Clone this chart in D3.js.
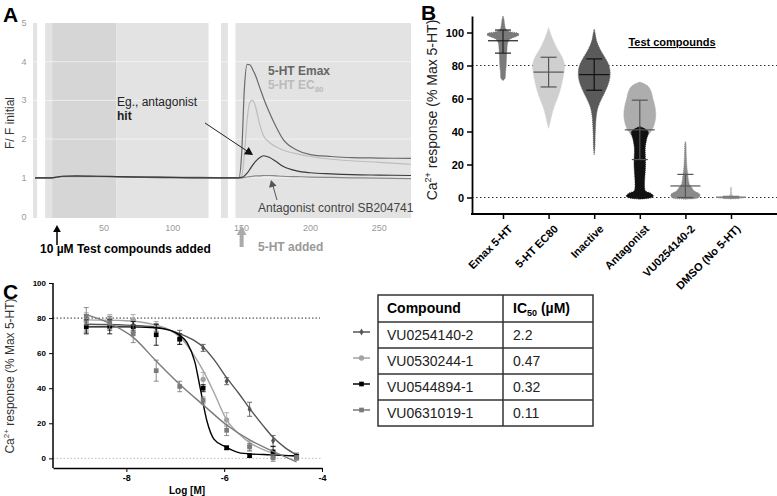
<!DOCTYPE html>
<html>
<head>
<meta charset="utf-8">
<script src="https://cdn.jsdelivr.net/npm/d3@7"></script>
<style>
  body { margin: 0; background: #fff; }
  svg { font-family: "Liberation Sans", Arial, sans-serif; display: block; }
</style>
</head>
<body>
<svg id="fig" width="777" height="496"></svg>
<script>
// ---- panel A: kinetic traces ----
const bandStart = [-1.5, 7.3, 12.4, 59, 135, 145.5];
const bandEnd   = [1.5, 12.4, 59, 126, 140, 273];
const bandShade = ['light', 'light', 'dark', 'light', 'light', 'light'];

const traceTime = [0, 8, 12, 16, 20, 30, 45, 60, 80, 100, 120, 140, 148, 150, 152, 154, 156, 158, 160, 163, 166, 170, 175, 180, 190, 200, 215, 230, 250, 273];
const emaxTrace = [1, 1, 1, 1.02, 1.04, 1.04, 1.04, 1.03, 1.02, 1.01, 1.01, 1, 1, 1.6, 3.3, 3.93, 3.92, 3.8, 3.65, 3.35, 3.05, 2.7, 2.32, 2.0, 1.72, 1.6, 1.55, 1.52, 1.51, 1.5];
const ec80Trace = [1, 1, 1, 1.01, 1.03, 1.03, 1.03, 1.02, 1.01, 1, 1, 1, 1, 1.05, 1.6, 2.5, 2.95, 3.0, 2.85, 2.4, 2.08, 1.92, 1.8, 1.72, 1.62, 1.55, 1.48, 1.44, 1.4, 1.35];
const hitTrace  = [1, 1, 1, 1.02, 1.04, 1.05, 1.04, 1.03, 1.02, 1.01, 1, 1, 1, 1.01, 1.05, 1.12, 1.22, 1.33, 1.42, 1.52, 1.57, 1.53, 1.42, 1.3, 1.18, 1.13, 1.1, 1.08, 1.07, 1.06];
const ctrlTrace = [1, 1, 1, 1.01, 1.03, 1.03, 1.03, 1.02, 1.01, 1, 1, 1, 1, 1, 1.01, 1.02, 1.03, 1.04, 1.05, 1.05, 1.06, 1.06, 1.05, 1.04, 1.03, 1.02, 1.01, 1, 0.99, 0.98];
const aYTicks = [0, 1, 2, 3, 4, 5];
const aXTicks = [50, 100, 150, 200, 250];

// ---- panel B: screening distributions ----
const bCategories = ['Emax 5-HT', '5-HT EC80', 'Inactive', 'Antagonist', 'VU0254140-2', 'DMSO (No 5-HT)'];
const bMeans = [95, 76, 74.5, 41, 7, 0.2];
const bSdLow = [87.5, 67, 65, 23, 0, -0.3];
const bSdHigh = [101.5, 85, 84, 59, 14, 0.7];
// distribution outlines: [response, relative density]
const emaxDist = [[71, 0], [72, 0.12], [76, 0.16], [80, 0.2], [85, 0.22], [90, 0.25], [94, 0.3], [96, 0.45], [97.5, 0.8], [98.5, 1.0], [99.5, 0.95], [100.5, 0.45], [102, 0.18], [105, 0.1], [108, 0.06], [110, 0]];
const ec80Dist = [[42, 0], [45, 0.08], [50, 0.2], [55, 0.35], [60, 0.55], [65, 0.72], [70, 0.85], [75, 0.95], [80, 1.0], [85, 0.85], [90, 0.55], [95, 0.3], [100, 0.1], [103, 0]];
const inactiveDist = [[26, 0], [30, 0.04], [40, 0.07], [50, 0.14], [55, 0.25], [60, 0.47], [65, 0.72], [70, 0.92], [75, 1.0], [80, 0.92], [85, 0.66], [90, 0.36], [95, 0.15], [100, 0.05], [102, 0]];
const antagHighDist = [[38, 0.55], [42, 0.82], [46, 0.95], [50, 1.0], [55, 0.95], [60, 0.82], [65, 0.68], [68, 0.45], [70, 0]];
const antagLowDist = [[-1, 0], [0, 0.75], [1, 0.85], [2.5, 0.7], [4, 0.35], [6, 0.3], [10, 0.3], [20, 0.36], [30, 0.34], [35, 0.42], [40, 0.52], [43, 0]];
const vuDist = [[-1, 0], [0, 0.85], [2, 0.9], [4, 0.55], [6, 0.4], [8, 0.25], [10, 0.2], [14, 0.15], [18, 0.1], [25, 0.06], [33, 0.03], [34, 0]];
const dmsoDist = [[-1, 0], [-0.5, 0.6], [0, 0.95], [0.5, 0.6], [1, 0.1], [6, 0.03], [6.5, 0]];
const bYTicks = [0, 20, 40, 60, 80, 100];

// ---- panel C: concentration response ----
const logConc = [-8.82, -8.34, -7.86, -7.39, -6.91, -6.43, -5.95, -5.48, -5.0, -4.52];
const compounds = ['VU0254140-2', 'VU0530244-1', 'VU0544894-1', 'VU0631019-1'];
const ic50s = ['2.2', '0.47', '0.32', '0.11'];
const respVU0254140 = [77, 77, 76, 74.5, 70, 63, 44, 28, 10, 1];
const semVU0254140  = [5, 4, 3, 2, 3, 2, 2, 4, 3, 2];
const respVU0530244 = [78, 79, 79, 76, 68, 45, 22, 7, 2, 1];
const semVU0530244  = [5, 3, 3, 2, 3, 4, 4, 3, 2, 1];
const respVU0544894 = [75, 75, 75, 70.5, 68, 40, 6, 1.5, 3.7, 1];
const semVU0544894  = [4, 4, 3, 6, 3, 2, 1, 1, 3, 1];
const respVU0631019 = [81, 77, 71, 50, 41, 33, 16, 6.5, 0.3, 0.5];
const semVU0631019  = [5, 3, 5, 6, 3, 2, 3, 2, 2, 1];
// fitted curves: [log M, response]
const fitVU0254140 = [[-8.82, 76.5], [-8, 76], [-7.4, 75], [-6.9, 71], [-6.6, 67], [-6.43, 63.5], [-6.2, 56], [-5.95, 46], [-5.7, 37], [-5.48, 28.5], [-5.2, 18.5], [-5.0, 12], [-4.75, 6], [-4.52, 2]];
const fitVU0530244 = [[-8.82, 79], [-8, 78.5], [-7.4, 76], [-7.1, 73], [-6.9, 69], [-6.6, 58], [-6.43, 50], [-6.2, 37], [-5.95, 22], [-5.7, 14], [-5.48, 9], [-5.2, 5], [-5.0, 3], [-4.52, 1]];
const fitVU0544894 = [[-8.82, 75], [-8, 75], [-7.4, 74.5], [-7.1, 73], [-6.9, 70], [-6.76, 66], [-6.6, 55], [-6.49, 40], [-6.35, 21], [-6.21, 11], [-5.97, 6.5], [-5.66, 3], [-5.05, 2], [-4.52, 1.5]];
const fitVU0631019 = [[-8.82, 82], [-8.34, 77], [-7.86, 69], [-7.39, 55.5], [-6.9, 42], [-6.43, 30.5], [-5.95, 19], [-5.48, 10.5], [-5.0, 4], [-4.52, -2]];
const cYTicks = [0, 20, 40, 60, 80, 100];
const cXTicks = [-8, -6, -4];

const svg = d3.select('#fig');

function panelLetter(t, x, y) {
  svg.append('text').attr('x', x).attr('y', y).text(t)
    .attr('font-size', 21).attr('font-weight', 'bold');
}

function arrowHead(g, x, y, angle, size, color) {
  const p = d3.path();
  p.moveTo(0, 0); p.lineTo(-size, -size * 0.55); p.lineTo(-size, size * 0.55); p.closePath();
  g.append('path').attr('d', p.toString()).attr('fill', color)
    .attr('transform', `translate(${x},${y}) rotate(${angle})`);
}

// ================= Panel A =================
panelLetter('A', 3, 22);
const ax = d3.scaleLinear().domain([-1.5, 273]).range([33, 411]);
const ay = d3.scaleLinear().domain([0, 5]).range([216.5, 23]);
const gA = svg.append('g');

gA.selectAll('rect.band').data(bandStart).join('rect')
  .attr('x', (d, i) => ax(d))
  .attr('width', (d, i) => ax(bandEnd[i]) - ax(d))
  .attr('y', ay(5)).attr('height', 218 - ay(5))
  .attr('fill', (d, i) => bandShade[i] === 'dark' ? '#d6d6d6' : '#e3e3e3');

gA.selectAll('line.grid').data([1, 2, 3, 4]).join('line')
  .attr('x1', ax(-1.5)).attr('x2', ax(273))
  .attr('y1', d => ay(d)).attr('y2', d => ay(d))
  .attr('stroke', '#fff').attr('stroke-opacity', 0.55).attr('stroke-width', 1);

gA.selectAll('text.ytick').data(aYTicks).join('text')
  .attr('x', 24).attr('y', d => ay(d) + 3).text(d => d)
  .attr('font-size', 9).attr('fill', '#999').attr('text-anchor', 'middle');
gA.selectAll('text.xtick').data(aXTicks).join('text')
  .attr('x', d => ax(d)).attr('y', 231).text(d => d)
  .attr('font-size', 9).attr('fill', '#999').attr('text-anchor', 'middle');

gA.append('text').attr('transform', `translate(14,123) rotate(-90)`)
  .attr('text-anchor', 'middle').attr('font-size', 12).attr('fill', '#333').text('F/ F initial');

const traceLine = vals => d3.line()
  .x((d, i) => ax(traceTime[i])).y(d => ay(d)).curve(d3.curveMonotoneX)(vals);
[[ctrlTrace, '#888'], [ec80Trace, '#bdbdbd'], [emaxTrace, '#6a6a6a'], [hitTrace, '#3a3a3a']].forEach(([vals, col]) => {
  gA.append('path').attr('d', traceLine(vals)).attr('fill', 'none')
    .attr('stroke', col).attr('stroke-width', 1.2);
});

gA.append('text').attr('x', 268).attr('y', 75).attr('font-size', 12).attr('font-weight', 'bold')
  .attr('fill', '#666').text('5-HT Emax');
const ecLabel = gA.append('text').attr('x', 268).attr('y', 89).attr('font-size', 12)
  .attr('font-weight', 'bold').attr('fill', '#bbb');
ecLabel.append('tspan').text('5-HT EC');
ecLabel.append('tspan').attr('font-size', 8).attr('dy', 3).text('80');

gA.append('text').attr('x', 117).attr('y', 106).attr('font-size', 12).attr('fill', '#222').text('Eg., antagonist');
gA.append('text').attr('x', 117).attr('y', 120).attr('font-size', 12).attr('font-weight', 'bold').attr('fill', '#222').text('hit');
gA.append('line').attr('x1', 205).attr('y1', 123).attr('x2', 247).attr('y2', 151)
  .attr('stroke', '#222').attr('stroke-width', 1);
arrowHead(gA, 253, 155, Math.atan2(32, 48) * 180 / Math.PI, 8, '#111');

gA.append('text').attr('x', 258).attr('y', 212).attr('font-size', 12).attr('fill', '#444')
  .text('Antagonist control SB204741');
gA.append('line').attr('x1', 277).attr('y1', 200).attr('x2', 273).attr('y2', 186)
  .attr('stroke', '#555').attr('stroke-width', 1);
arrowHead(gA, 271, 180, -105, 7, '#555');

// addition markers
gA.append('line').attr('x1', 57).attr('y1', 245).attr('x2', 57).attr('y2', 231)
  .attr('stroke', '#000').attr('stroke-width', 1.5);
arrowHead(gA, 57, 225, -90, 7, '#000');
gA.append('text').attr('x', 40).attr('y', 253).attr('font-size', 12).attr('font-weight', 'bold')
  .text('10 µM Test compounds added');
gA.append('line').attr('x1', ax(150)).attr('y1', 247).attr('x2', ax(150)).attr('y2', 234)
  .attr('stroke', '#aaa').attr('stroke-width', 4);
arrowHead(gA, ax(150), 226, -90, 9, '#aaa');
gA.append('text').attr('x', 258).attr('y', 251).attr('font-size', 12).attr('font-weight', 'bold')
  .attr('fill', '#999').text('5-HT added');

// ================= Panel B =================
panelLetter('B', 421, 20);
const bx = d3.scalePoint().domain(bCategories).range([503, 731]);
const by = d3.scaleLinear().domain([-10, 110]).range([214, 16]);
const bw = d3.scaleLinear().domain([0, 1]).range([0, 16]);
const gB = svg.append('g');

gB.selectAll('line.ref').data([80, 0]).join('line')
  .attr('x1', 472).attr('x2', 777).attr('y1', d => by(d)).attr('y2', d => by(d))
  .attr('stroke', '#333').attr('stroke-width', 1.2).attr('stroke-dasharray', '1.5,2.5');

const violin = (cat, dist) => d3.area()
  .y(d => by(d[0]))
  .x0(d => bx(cat) - bw(d[1]))
  .x1(d => bx(cat) + bw(d[1]))
  .curve(d3.curveCatmullRom)(dist);
const dists = [
  ['Emax 5-HT', emaxDist, '#7a7a7a'],
  ['5-HT EC80', ec80Dist, '#cfcfcf'],
  ['Inactive', inactiveDist, '#5a5a5a'],
  ['Antagonist', antagHighDist, '#adadad'],
  ['Antagonist', antagLowDist, '#111'],
  ['VU0254140-2', vuDist, '#8a8a8a'],
  ['DMSO (No 5-HT)', dmsoDist, '#bbb']
];
dists.forEach(([cat, dist, col]) => {
  gB.append('path').attr('d', violin(cat, dist)).attr('fill', col)
    .attr('stroke', col).attr('stroke-width', 0.8).attr('stroke-dasharray', '1,1');
});

const barCol = ['#222', '#555', '#111', '#555', '#555', '#777'];
bCategories.forEach((c, i) => {
  const x = bx(c);
  const g = gB.append('g').attr('stroke', barCol[i]).attr('stroke-width', 1.2);
  g.append('line').attr('x1', x - 15).attr('x2', x + 15).attr('y1', by(bMeans[i])).attr('y2', by(bMeans[i]));
  g.append('line').attr('x1', x).attr('x2', x).attr('y1', by(bSdLow[i])).attr('y2', by(bSdHigh[i]));
  [bSdLow[i], bSdHigh[i]].forEach(v => {
    g.append('line').attr('x1', x - 8).attr('x2', x + 8).attr('y1', by(v)).attr('y2', by(v));
  });
});

const bAxisY = gB.append('g').attr('transform', 'translate(472,0)')
  .call(d3.axisLeft(by).tickValues(bYTicks).tickSize(5).tickSizeOuter(0));
bAxisY.select('.domain').attr('stroke-width', 1.8);
bAxisY.selectAll('.tick line').attr('stroke-width', 1.5);
bAxisY.selectAll('text').attr('font-size', 11).attr('font-weight', 'bold')
  .attr('font-family', '"Liberation Sans", Arial, sans-serif');

const bAxisX = gB.append('g').attr('transform', 'translate(0,214)')
  .call(d3.axisBottom(bx).tickSize(5).tickSizeOuter(0));
bAxisX.select('.domain').attr('d', 'M471,0H777').attr('stroke-width', 1.8);
bAxisX.selectAll('.tick line').attr('stroke-width', 1.5);
bAxisX.selectAll('text').attr('font-size', 11).attr('font-weight', 'bold')
  .attr('font-family', '"Liberation Sans", Arial, sans-serif')
  .attr('text-anchor', 'end').attr('dy', 0)
  .attr('transform', 'translate(4,10) rotate(-45)');

const bLabel = gB.append('text').attr('transform', 'translate(437,110) rotate(-90)')
  .attr('text-anchor', 'middle').attr('font-size', 14).attr('fill', '#222');
bLabel.append('tspan').text('Ca');
bLabel.append('tspan').attr('font-size', 9).attr('dy', -6).text('2+');
bLabel.append('tspan').attr('dy', 6).text(' response (% Max 5-HT)');

gB.append('text').attr('x', 672).attr('y', 46).attr('text-anchor', 'middle')
  .attr('font-size', 11).attr('font-weight', 'bold').attr('text-decoration', 'underline')
  .text('Test compounds');

// ================= Panel C =================
panelLetter('C', 3, 299);
const cx = d3.scaleLinear().domain([-9.5, -4]).range([53, 322]);
const cy = d3.scaleLinear().domain([-5.5, 100]).range([468, 283]);
const gC = svg.append('g');

gC.append('line').attr('x1', 53).attr('x2', 320).attr('y1', cy(80)).attr('y2', cy(80))
  .attr('stroke', '#333').attr('stroke-dasharray', '1.5,2');
gC.append('line').attr('x1', 53).attr('x2', 322).attr('y1', cy(0)).attr('y2', cy(0))
  .attr('stroke', '#bbb').attr('stroke-dasharray', '1.5,2');

const series = [
  { resp: respVU0254140, sem: semVU0254140, fit: fitVU0254140, col: '#555', shape: 'diamond' },
  { resp: respVU0530244, sem: semVU0530244, fit: fitVU0530244, col: '#a3a3a3', shape: 'circle' },
  { resp: respVU0544894, sem: semVU0544894, fit: fitVU0544894, col: '#000', shape: 'square' },
  { resp: respVU0631019, sem: semVU0631019, fit: fitVU0631019, col: '#7a7a7a', shape: 'square' }
];
const symFor = s => s === 'circle' ? d3.symbolCircle : s === 'diamond' ? d3.symbolDiamond : d3.symbolSquare;
const fitLine = d3.line().x(d => cx(d[0])).y(d => cy(d[1])).curve(d3.curveMonotoneX);

series.forEach(s => {
  const g = gC.append('g');
  g.append('path').attr('d', fitLine(s.fit)).attr('fill', 'none')
    .attr('stroke', s.col).attr('stroke-width', 1.4);
  s.resp.forEach((v, i) => {
    const x = cx(logConc[i]);
    const y0 = cy(v - s.sem[i]), y1 = cy(v + s.sem[i]);
    const eb = g.append('g').attr('stroke', s.col).attr('stroke-width', 1).attr('stroke-opacity', 0.85);
    eb.append('line').attr('x1', x).attr('x2', x).attr('y1', y0).attr('y2', y1);
    eb.append('line').attr('x1', x - 2.5).attr('x2', x + 2.5).attr('y1', y0).attr('y2', y0);
    eb.append('line').attr('x1', x - 2.5).attr('x2', x + 2.5).attr('y1', y1).attr('y2', y1);
  });
  g.selectAll('path.pt').data(s.resp).join('path')
    .attr('d', d3.symbol().type(symFor(s.shape)).size(s.shape === 'diamond' ? 14 : 22))
    .attr('transform', (d, i) => `translate(${cx(logConc[i])},${cy(d)})`)
    .attr('fill', s.col);
});

const cAxisY = gC.append('g').attr('transform', 'translate(53,0)')
  .call(d3.axisLeft(cy).tickValues(cYTicks).tickSize(4).tickSizeOuter(0));
cAxisY.select('.domain').attr('d', `M0,${cy(100)}V468`).attr('stroke-width', 1.5);
cAxisY.selectAll('text').attr('font-size', 8).attr('font-weight', 'bold')
  .attr('font-family', '"Liberation Sans", Arial, sans-serif');

const cAxisX = gC.append('g').attr('transform', 'translate(0,468)')
  .call(d3.axisBottom(cx).tickValues(cXTicks).tickFormat(d => String(d)).tickSize(4).tickSizeOuter(0));
cAxisX.select('.domain').attr('stroke-width', 1.5);
cAxisX.selectAll('text').attr('font-size', 9).attr('font-weight', 'bold')
  .attr('font-family', '"Liberation Sans", Arial, sans-serif');

gC.append('text').attr('x', 187).attr('y', 494).attr('text-anchor', 'middle')
  .attr('font-size', 10).attr('font-weight', 'bold').text('Log [M]');
const cLabel = gC.append('text').attr('transform', 'translate(14,376) rotate(-90)')
  .attr('text-anchor', 'middle').attr('font-size', 12).attr('fill', '#333');
cLabel.append('tspan').text('Ca');
cLabel.append('tspan').attr('font-size', 8).attr('dy', -5).text('2+');
cLabel.append('tspan').attr('dy', 5).text(' response (% Max 5-HT)');

// ---- table with legend ----
const tLeft = 378, tMid = 503, tRight = 593, tTop = 295, headH = 27, rowH = 26;
const gT = svg.append('g');
gT.append('rect').attr('x', tLeft).attr('y', tTop).attr('width', tRight - tLeft)
  .attr('height', headH + rowH * compounds.length).attr('fill', 'none')
  .attr('stroke', '#333').attr('stroke-width', 1.5);
gT.append('line').attr('x1', tMid).attr('x2', tMid).attr('y1', tTop)
  .attr('y2', tTop + headH + rowH * compounds.length).attr('stroke', '#333').attr('stroke-width', 1.5);
compounds.forEach((c, i) => {
  gT.append('line').attr('x1', tLeft).attr('x2', tRight)
    .attr('y1', tTop + headH + rowH * i).attr('y2', tTop + headH + rowH * i)
    .attr('stroke', '#333').attr('stroke-width', 1.5);
});
gT.append('text').attr('x', tLeft + 9).attr('y', tTop + 18).attr('font-size', 14)
  .attr('font-weight', 'bold').text('Compound');
const icHead = gT.append('text').attr('x', tMid + 10).attr('y', tTop + 18).attr('font-size', 14)
  .attr('font-weight', 'bold');
icHead.append('tspan').text('IC');
icHead.append('tspan').attr('font-size', 9).attr('dy', 3).text('50');
icHead.append('tspan').attr('dy', -3).text(' (µM)');

gT.selectAll('text.cmp').data(compounds).join('text')
  .attr('x', tLeft + 9).attr('y', (d, i) => tTop + headH + rowH * i + 18)
  .attr('font-size', 14).attr('fill', '#222').text(d => d);
gT.selectAll('text.ic').data(ic50s).join('text')
  .attr('x', tMid + 10).attr('y', (d, i) => tTop + headH + rowH * i + 18)
  .attr('font-size', 14).attr('fill', '#222').text(d => d);

series.forEach((s, i) => {
  const y = tTop + headH + rowH * i + 10;
  gT.append('line').attr('x1', 353).attr('x2', 370).attr('y1', y).attr('y2', y)
    .attr('stroke', s.col).attr('stroke-width', 1.5);
  gT.append('path').attr('d', d3.symbol().type(symFor(s.shape)).size(s.shape === 'diamond' ? 14 : 22))
    .attr('transform', `translate(361.5,${y})`).attr('fill', s.col);
});
</script>
</body>
</html>
